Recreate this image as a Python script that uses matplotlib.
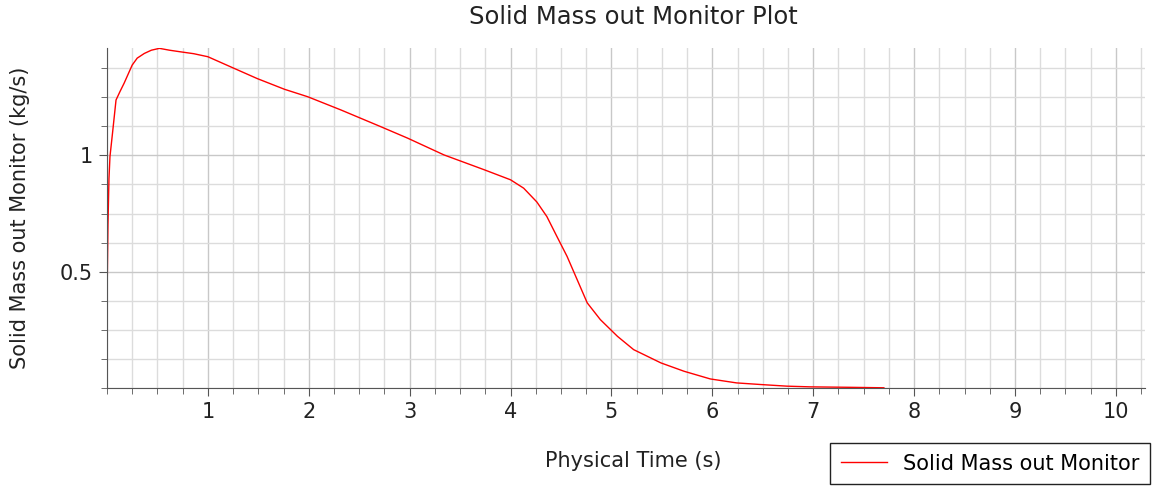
import matplotlib
matplotlib.use("Agg")
import matplotlib.pyplot as plt
from matplotlib.ticker import MultipleLocator

# time (s) and solid mass out (kg/s)
time_s = [0.0, 0.01, 0.02, 0.03, 0.055, 0.09, 0.13, 0.17, 0.25, 0.30, 0.37, 0.44, 0.52,
          0.62, 0.73, 0.86, 1.0, 1.26, 1.49, 1.76, 1.99, 2.32, 2.71, 2.98, 3.34, 3.74,
          4.0, 4.13, 4.26, 4.36, 4.46, 4.56, 4.66, 4.76, 4.89, 5.06, 5.22, 5.49,
          5.72, 5.98, 6.24, 6.48, 6.74, 6.97, 7.37, 7.7]
mass_out = [0.35, 0.7, 0.9, 0.995, 1.095, 1.238, 1.275, 1.31, 1.388, 1.418, 1.438, 1.452, 1.46,
            1.452, 1.445, 1.437, 1.424, 1.374, 1.33, 1.284, 1.252, 1.195, 1.124, 1.074, 1.002, 0.938,
            0.895, 0.859, 0.80, 0.737, 0.651, 0.566, 0.466, 0.366, 0.294, 0.222, 0.165, 0.108,
            0.072, 0.039, 0.022, 0.015, 0.008, 0.005, 0.003, 0.001]

x_ticks = [1, 2, 3, 4, 5, 6, 7, 8, 9, 10]
y_ticks = [0.5, 1.0]
y_tick_labels = ["0.5", "1"]

fig = plt.figure(figsize=(11.65, 4.86), dpi=100)
ax = fig.add_axes([0.0918, 0.2016, 0.8912, 0.6994])

ax.plot(time_s, mass_out, color="#ff0000", lw=1.0, label="Solid Mass out Monitor")

ax.set_xlim(0, 10.29)
ax.set_ylim(0, 1.461)
ax.set_xticks(x_ticks)
ax.set_xticklabels([str(v) for v in x_ticks])
ax.set_yticks(y_ticks)
ax.set_yticklabels(y_tick_labels)
ax.xaxis.set_minor_locator(MultipleLocator(0.25))
ax.yaxis.set_minor_locator(MultipleLocator(0.125))

ax.grid(which="minor", color="#dcdcdc", lw=1.0)
ax.grid(which="major", color="#c8c8c8", lw=1.0)
ax.set_axisbelow(True)

for s in ["top", "right"]:
    ax.spines[s].set_visible(False)
for s in ["left", "bottom"]:
    ax.spines[s].set_color("#555555")
ax.tick_params(which="major", length=6, color="#555555", labelsize=15,
               labelcolor="#222222", pad=4)
ax.tick_params(which="minor", length=4, color="#555555")

fig.text(633.5 / 1165, 1 - 17 / 486, "Solid Mass out Monitor Plot",
         fontsize=17.5, color="#222222", ha="center", va="center")
ax.set_xlabel("Physical Time (s)", fontsize=15, color="#222222")
ax.xaxis.set_label_coords(0.507, -0.185)
ax.set_ylabel("Solid Mass out Monitor (kg/s)", fontsize=15, color="#222222")
ax.yaxis.set_label_coords(-0.074, 0.5)

leg = fig.legend(loc="lower right", bbox_to_anchor=(1150 / 1165, 2 / 486),
                 fontsize=15, fancybox=False, edgecolor="#222222", framealpha=1,
                 handlelength=2.2, borderpad=0.5, borderaxespad=0)
leg.get_frame().set_linewidth(1.0)

fig.savefig("out.png", dpi=100)
